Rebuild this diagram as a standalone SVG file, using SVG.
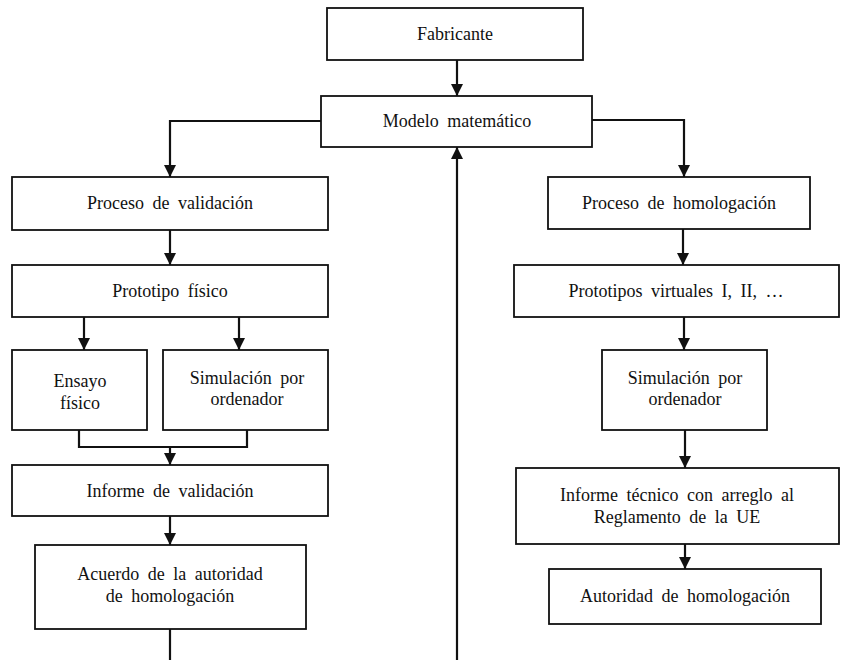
<svg xmlns="http://www.w3.org/2000/svg" width="841" height="660" viewBox="0 0 841 660">
<style>
.box{fill:#fff;stroke:#111;stroke-width:1.8}
.t{font-family:'Liberation Serif','DejaVu Serif',serif;font-size:18px;fill:#111;text-anchor:middle;word-spacing:4px}
.c{fill:none;stroke:#111;stroke-width:2.2}
</style>
<defs>
<marker id="ah" markerWidth="12" markerHeight="12" viewBox="0 0 12 12" refX="12" refY="6" orient="auto" markerUnits="userSpaceOnUse">
<path d="M0,0 L12,6 L0,12 Z" fill="#111"/>
</marker>
</defs>
<g id="connectors">
<path class="c" d="M457,60 V96" marker-end="url(#ah)"/>
<path class="c" d="M321,121 H170 V177" marker-end="url(#ah)"/>
<path class="c" d="M592,120 H684 V177" marker-end="url(#ah)"/>
<path class="c" d="M457,660 V147" marker-end="url(#ah)"/>
<path class="c" d="M170,230 V265" marker-end="url(#ah)"/>
<path class="c" d="M84,317 V350" marker-end="url(#ah)"/>
<path class="c" d="M239,317 V350" marker-end="url(#ah)"/>
<path class="c" d="M79,430 V447 H247 V430"/>
<path class="c" d="M170,447 V465" marker-end="url(#ah)"/>
<path class="c" d="M170,516 V545" marker-end="url(#ah)"/>
<path class="c" d="M170,629 V660"/>
<path class="c" d="M683,229 V265" marker-end="url(#ah)"/>
<path class="c" d="M684,317 V350" marker-end="url(#ah)"/>
<path class="c" d="M685,430 V468" marker-end="url(#ah)"/>
<path class="c" d="M685,544 V569" marker-end="url(#ah)"/>
</g>
<g id="fabricante"><rect class="box" x="327" y="8" width="256" height="52"/><text class="t" x="455" y="40">Fabricante</text></g>
<g id="modelo"><rect class="box" x="321" y="96" width="271" height="51"/><text class="t" x="457" y="127">Modelo matemático</text></g>
<g id="proceso-validacion"><rect class="box" x="12" y="177" width="316" height="53"/><text class="t" x="170" y="209">Proceso de validación</text></g>
<g id="prototipo-fisico"><rect class="box" x="12" y="265" width="316" height="52"/><text class="t" x="170" y="297">Prototipo físico</text></g>
<g id="ensayo-fisico"><rect class="box" x="12" y="350" width="135" height="80"/><text class="t" x="80" y="387">Ensayo</text><text class="t" x="80" y="409">físico</text></g>
<g id="simulacion-izq"><rect class="box" x="163" y="350" width="165" height="80"/><text class="t" x="247" y="384">Simulación por</text><text class="t" x="247" y="405">ordenador</text></g>
<g id="informe-validacion"><rect class="box" x="12" y="465" width="316" height="51"/><text class="t" x="170" y="497">Informe de validación</text></g>
<g id="acuerdo"><rect class="box" x="35" y="545" width="271" height="84"/><text class="t" x="170" y="580">Acuerdo de la autoridad</text><text class="t" x="170" y="602">de homologación</text></g>
<g id="proceso-homologacion"><rect class="box" x="548" y="177" width="262" height="52"/><text class="t" x="679" y="209">Proceso de homologación</text></g>
<g id="prototipos-virtuales"><rect class="box" x="514" y="265" width="325" height="52"/><text class="t" x="676" y="297">Prototipos virtuales I, II, …</text></g>
<g id="simulacion-der"><rect class="box" x="602" y="350" width="165" height="80"/><text class="t" x="685" y="384">Simulación por</text><text class="t" x="685" y="405">ordenador</text></g>
<g id="informe-tecnico"><rect class="box" x="516" y="468" width="323" height="76"/><text class="t" x="677" y="501">Informe técnico con arreglo al</text><text class="t" x="677" y="523">Reglamento de la UE</text></g>
<g id="autoridad"><rect class="box" x="549" y="569" width="272" height="55"/><text class="t" x="685" y="602">Autoridad de homologación</text></g>
</svg>
